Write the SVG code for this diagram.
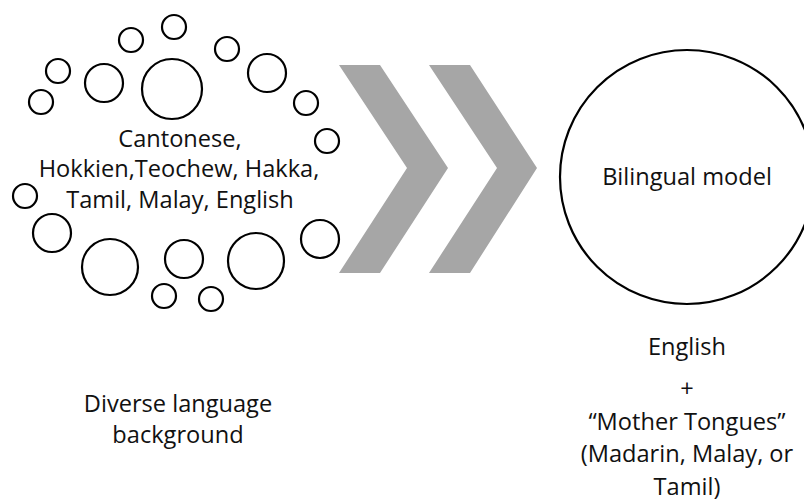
<svg xmlns="http://www.w3.org/2000/svg" width="804" height="504" viewBox="0 0 804 504">
<style>
.c{fill:none;stroke:#000;stroke-width:2.2}
.t{font-family:"Open Sans",Lato,"Liberation Sans",sans-serif;font-size:23.6px;fill:#111;text-anchor:middle}
.chev{fill:#a6a6a6}
</style>
<rect width="804" height="504" fill="#fff"/>
<g id="languages">
<circle class="c" cx="174" cy="27" r="12"/>
<circle class="c" cx="131" cy="40" r="12"/>
<circle class="c" cx="227" cy="49" r="12"/>
<circle class="c" cx="58" cy="71" r="12"/>
<circle class="c" cx="104" cy="83" r="19"/>
<circle class="c" cx="172" cy="89" r="30"/>
<circle class="c" cx="267" cy="73" r="19"/>
<circle class="c" cx="41" cy="102" r="12"/>
<circle class="c" cx="306" cy="103" r="12"/>
<circle class="c" cx="327" cy="141" r="12"/>
<circle class="c" cx="25" cy="196" r="12"/>
<circle class="c" cx="52" cy="233" r="19"/>
<circle class="c" cx="110" cy="267" r="28"/>
<circle class="c" cx="184" cy="259" r="19"/>
<circle class="c" cx="256" cy="261" r="28"/>
<circle class="c" cx="320" cy="239" r="19"/>
<circle class="c" cx="164" cy="296" r="12"/>
<circle class="c" cx="211" cy="299" r="12"/>
<text class="t" x="180" y="146.5">Cantonese,</text>
<text class="t" x="179" y="177">Hokkien,Teochew, Hakka,</text>
<text class="t" x="180" y="207.5">Tamil, Malay, English</text>
</g>
<g id="diverse">
<text class="t" x="178" y="412">Diverse language</text>
<text class="t" x="178" y="442.5">background</text>
</g>
<g id="connectors">
<polygon class="chev" points="339,65 380,65 448,168 380,273 339,273 407,168"/>
<polygon class="chev" points="429,65 470,65 537,168 470,273 429,273 497,168"/>
</g>
<g id="bilingual">
<circle class="c" cx="687" cy="177" r="127"/>
<text class="t" x="687" y="185">Bilingual model</text>
</g>
<g id="result">
<text class="t" x="687" y="355">English</text>
<text class="t" x="687" y="397">+</text>
<text class="t" x="687" y="430">“Mother Tongues”</text>
<text class="t" x="687" y="462">(Madarin, Malay, or</text>
<text class="t" x="687" y="495">Tamil)</text>
</g>
</svg>
